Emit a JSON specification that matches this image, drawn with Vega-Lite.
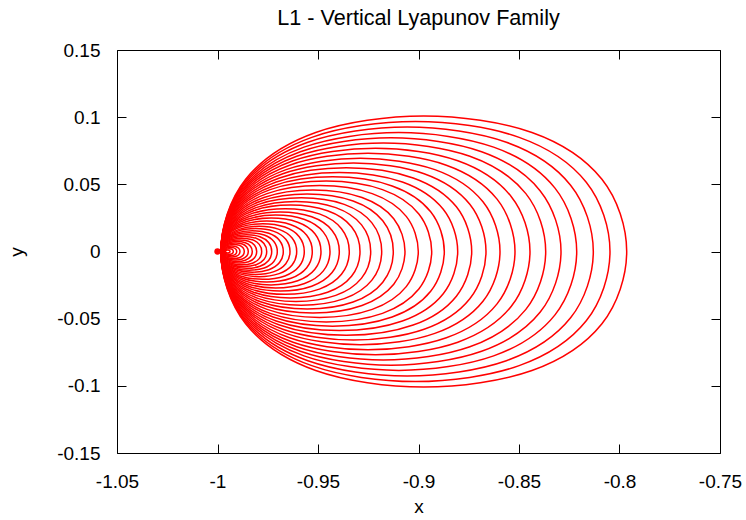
{
"$schema":"https://vega.github.io/schema/vega-lite/v6.json",
"width":603,"height":403,
"autosize":{"type":"none"},
"padding":{"left":117,"top":50,"right":26,"bottom":67},
"background":"#ffffff",
"title":{"text":"L1 - Vertical Lyapunov Family","font":"Liberation Sans","fontSize":21.6,"fontWeight":"normal","color":"#000000","anchor":"middle","offset":11},
"config":{
 "font":"Liberation Sans",
 "view":{"stroke":"#000000","strokeWidth":1},
 "axis":{"domain":false,"grid":false,"ticks":true,"tickSize":-9,"tickColor":"#000000","tickWidth":1,
  "labelFont":"Liberation Sans","labelFontSize":19,"labelColor":"#000000","labelFlush":false,"labelOverlap":false,"labelBound":false,
  "titleFont":"Liberation Sans","titleFontSize":19,"titleFontWeight":"normal","titleColor":"#000000"}
},
"datasets":{
"pt":[{"x":-1,"y":0}],
"orbits":[
{"k":1,"i":0,"x":-0.99378,"y":0},{"k":1,"i":1,"x":-0.99392,"y":0.00059},{"k":1,"i":2,"x":-0.9943,"y":0.00097},{"k":1,"i":3,"x":-0.99489,"y":0.00111},{"k":1,"i":4,"x":-0.99548,"y":0.00097},{"k":1,"i":5,"x":-0.99586,"y":0.00059},{"k":1,"i":6,"x":-0.996,"y":0},{"k":1,"i":7,"x":-0.99586,"y":-0.00059},{"k":1,"i":8,"x":-0.99548,"y":-0.00097},{"k":1,"i":9,"x":-0.99489,"y":-0.00111},{"k":1,"i":10,"x":-0.9943,"y":-0.00097},{"k":1,"i":11,"x":-0.99392,"y":-0.00059},
{"k":2,"i":0,"x":-0.99214,"y":0},{"k":2,"i":1,"x":-0.99239,"y":0.00111},{"k":2,"i":2,"x":-0.99311,"y":0.00183},{"k":2,"i":3,"x":-0.99422,"y":0.00208},{"k":2,"i":4,"x":-0.99533,"y":0.00183},{"k":2,"i":5,"x":-0.99605,"y":0.00111},{"k":2,"i":6,"x":-0.9963,"y":0},{"k":2,"i":7,"x":-0.99605,"y":-0.00111},{"k":2,"i":8,"x":-0.99533,"y":-0.00183},{"k":2,"i":9,"x":-0.99422,"y":-0.00208},{"k":2,"i":10,"x":-0.99311,"y":-0.00183},{"k":2,"i":11,"x":-0.99239,"y":-0.00111},
{"k":3,"i":0,"x":-0.99045,"y":0},{"k":3,"i":1,"x":-0.99083,"y":0.00164},{"k":3,"i":2,"x":-0.99189,"y":0.0027},{"k":3,"i":3,"x":-0.99353,"y":0.00308},{"k":3,"i":4,"x":-0.99517,"y":0.0027},{"k":3,"i":5,"x":-0.99623,"y":0.00164},{"k":3,"i":6,"x":-0.9966,"y":0},{"k":3,"i":7,"x":-0.99623,"y":-0.00164},{"k":3,"i":8,"x":-0.99517,"y":-0.0027},{"k":3,"i":9,"x":-0.99353,"y":-0.00308},{"k":3,"i":10,"x":-0.99189,"y":-0.0027},{"k":3,"i":11,"x":-0.99083,"y":-0.00164},
{"k":4,"i":0,"x":-0.98881,"y":0},{"k":4,"i":1,"x":-0.9893,"y":0.00216},{"k":4,"i":2,"x":-0.9907,"y":0.00355},{"k":4,"i":3,"x":-0.99286,"y":0.00405},{"k":4,"i":4,"x":-0.99501,"y":0.00355},{"k":4,"i":5,"x":-0.99641,"y":0.00216},{"k":4,"i":6,"x":-0.9969,"y":0},{"k":4,"i":7,"x":-0.99641,"y":-0.00216},{"k":4,"i":8,"x":-0.99501,"y":-0.00355},{"k":4,"i":9,"x":-0.99286,"y":-0.00405},{"k":4,"i":10,"x":-0.9907,"y":-0.00355},{"k":4,"i":11,"x":-0.9893,"y":-0.00216},
{"k":5,"i":0,"x":-0.98667,"y":0},{"k":5,"i":1,"x":-0.98731,"y":0.00281},{"k":5,"i":2,"x":-0.98913,"y":0.00462},{"k":5,"i":3,"x":-0.99194,"y":0.00527},{"k":5,"i":4,"x":-0.99474,"y":0.00462},{"k":5,"i":5,"x":-0.99656,"y":0.00281},{"k":5,"i":6,"x":-0.9972,"y":0},{"k":5,"i":7,"x":-0.99656,"y":-0.00281},{"k":5,"i":8,"x":-0.99474,"y":-0.00462},{"k":5,"i":9,"x":-0.99194,"y":-0.00527},{"k":5,"i":10,"x":-0.98913,"y":-0.00462},{"k":5,"i":11,"x":-0.98731,"y":-0.00281},
{"k":6,"i":0,"x":-0.98468,"y":0},{"k":6,"i":1,"x":-0.98546,"y":0.00339},{"k":6,"i":2,"x":-0.98765,"y":0.00558},{"k":6,"i":3,"x":-0.99104,"y":0.00636},{"k":6,"i":4,"x":-0.99443,"y":0.00558},{"k":6,"i":5,"x":-0.99662,"y":0.00339},{"k":6,"i":6,"x":-0.9974,"y":0},{"k":6,"i":7,"x":-0.99662,"y":-0.00339},{"k":6,"i":8,"x":-0.99443,"y":-0.00558},{"k":6,"i":9,"x":-0.99104,"y":-0.00636},{"k":6,"i":10,"x":-0.98765,"y":-0.00558},{"k":6,"i":11,"x":-0.98546,"y":-0.00339},
{"k":7,"i":0,"x":-0.98269,"y":0},{"k":7,"i":1,"x":-0.9836,"y":0.00397},{"k":7,"i":2,"x":-0.98617,"y":0.00655},{"k":7,"i":3,"x":-0.99015,"y":0.00746},{"k":7,"i":4,"x":-0.99412,"y":0.00655},{"k":7,"i":5,"x":-0.99669,"y":0.00397},{"k":7,"i":6,"x":-0.9976,"y":0},{"k":7,"i":7,"x":-0.99669,"y":-0.00397},{"k":7,"i":8,"x":-0.99412,"y":-0.00655},{"k":7,"i":9,"x":-0.99015,"y":-0.00746},{"k":7,"i":10,"x":-0.98617,"y":-0.00655},{"k":7,"i":11,"x":-0.9836,"y":-0.00397},
{"k":8,"i":0,"x":-0.9805,"y":0},{"k":8,"i":1,"x":-0.98156,"y":0.00461},{"k":8,"i":2,"x":-0.98454,"y":0.0076},{"k":8,"i":3,"x":-0.98915,"y":0.00865},{"k":8,"i":4,"x":-0.99376,"y":0.0076},{"k":8,"i":5,"x":-0.99675,"y":0.00461},{"k":8,"i":6,"x":-0.9978,"y":0},{"k":8,"i":7,"x":-0.99675,"y":-0.00461},{"k":8,"i":8,"x":-0.99376,"y":-0.0076},{"k":8,"i":9,"x":-0.98915,"y":-0.00865},{"k":8,"i":10,"x":-0.98454,"y":-0.0076},{"k":8,"i":11,"x":-0.98156,"y":-0.00461},
{"k":9,"i":0,"x":-0.97801,"y":0},{"k":9,"i":1,"x":-0.97922,"y":0.0053},{"k":9,"i":2,"x":-0.98265,"y":0.00873},{"k":9,"i":3,"x":-0.98796,"y":0.00995},{"k":9,"i":4,"x":-0.99326,"y":0.00873},{"k":9,"i":5,"x":-0.99669,"y":0.0053},{"k":9,"i":6,"x":-0.9979,"y":0},{"k":9,"i":7,"x":-0.99669,"y":-0.0053},{"k":9,"i":8,"x":-0.99326,"y":-0.00873},{"k":9,"i":9,"x":-0.98796,"y":-0.00995},{"k":9,"i":10,"x":-0.98265,"y":-0.00873},{"k":9,"i":11,"x":-0.97922,"y":-0.0053},
{"k":10,"i":0,"x":-0.97552,"y":0},{"k":10,"i":1,"x":-0.97689,"y":0.00599},{"k":10,"i":2,"x":-0.98077,"y":0.00987},{"k":10,"i":3,"x":-0.98676,"y":0.01124},{"k":10,"i":4,"x":-0.99275,"y":0.00987},{"k":10,"i":5,"x":-0.99663,"y":0.00599},{"k":10,"i":6,"x":-0.998,"y":0},{"k":10,"i":7,"x":-0.99663,"y":-0.00599},{"k":10,"i":8,"x":-0.99275,"y":-0.00987},{"k":10,"i":9,"x":-0.98676,"y":-0.01124},{"k":10,"i":10,"x":-0.98077,"y":-0.00987},{"k":10,"i":11,"x":-0.97689,"y":-0.00599},
{"k":11,"i":0,"x":-0.97303,"y":0},{"k":11,"i":1,"x":-0.97456,"y":0.00668},{"k":11,"i":2,"x":-0.97888,"y":0.01101},{"k":11,"i":3,"x":-0.98557,"y":0.01254},{"k":11,"i":4,"x":-0.99225,"y":0.01101},{"k":11,"i":5,"x":-0.99657,"y":0.00668},{"k":11,"i":6,"x":-0.9981,"y":0},{"k":11,"i":7,"x":-0.99657,"y":-0.00668},{"k":11,"i":8,"x":-0.99225,"y":-0.01101},{"k":11,"i":9,"x":-0.98557,"y":-0.01254},{"k":11,"i":10,"x":-0.97888,"y":-0.01101},{"k":11,"i":11,"x":-0.97456,"y":-0.00668},
{"k":12,"i":0,"x":-0.97025,"y":0},{"k":12,"i":1,"x":-0.97195,"y":0.00743},{"k":12,"i":2,"x":-0.97676,"y":0.01223},{"k":12,"i":3,"x":-0.98418,"y":0.01393},{"k":12,"i":4,"x":-0.99161,"y":0.01223},{"k":12,"i":5,"x":-0.99641,"y":0.00743},{"k":12,"i":6,"x":-0.9981,"y":0},{"k":12,"i":7,"x":-0.99641,"y":-0.00743},{"k":12,"i":8,"x":-0.99161,"y":-0.01223},{"k":12,"i":9,"x":-0.98418,"y":-0.01393},{"k":12,"i":10,"x":-0.97676,"y":-0.01223},{"k":12,"i":11,"x":-0.97195,"y":-0.00743},
{"k":13,"i":0,"x":-0.96726,"y":0},{"k":13,"i":1,"x":-0.96914,"y":0.00822},{"k":13,"i":2,"x":-0.97446,"y":0.01354},{"k":13,"i":3,"x":-0.98268,"y":0.01542},{"k":13,"i":4,"x":-0.9909,"y":0.01354},{"k":13,"i":5,"x":-0.99622,"y":0.00822},{"k":13,"i":6,"x":-0.9981,"y":0},{"k":13,"i":7,"x":-0.99622,"y":-0.00822},{"k":13,"i":8,"x":-0.9909,"y":-0.01354},{"k":13,"i":9,"x":-0.98268,"y":-0.01542},{"k":13,"i":10,"x":-0.97446,"y":-0.01354},{"k":13,"i":11,"x":-0.96914,"y":-0.00822},
{"k":14,"i":0,"x":-0.96393,"y":0},{"k":14,"i":1,"x":-0.96601,"y":0.00911},{"k":14,"i":2,"x":-0.97191,"y":0.015},{"k":14,"i":3,"x":-0.98102,"y":0.01709},{"k":14,"i":4,"x":-0.99012,"y":0.015},{"k":14,"i":5,"x":-0.99602,"y":0.00911},{"k":14,"i":6,"x":-0.9981,"y":0},{"k":14,"i":7,"x":-0.99602,"y":-0.00911},{"k":14,"i":8,"x":-0.99012,"y":-0.015},{"k":14,"i":9,"x":-0.98102,"y":-0.01709},{"k":14,"i":10,"x":-0.97191,"y":-0.015},{"k":14,"i":11,"x":-0.96601,"y":-0.00911},
{"k":15,"i":0,"x":-0.9606,"y":0},{"k":15,"i":1,"x":-0.96289,"y":0.00999},{"k":15,"i":2,"x":-0.96936,"y":0.01646},{"k":15,"i":3,"x":-0.97935,"y":0.01875},{"k":15,"i":4,"x":-0.98934,"y":0.01646},{"k":15,"i":5,"x":-0.99581,"y":0.00999},{"k":15,"i":6,"x":-0.9981,"y":0},{"k":15,"i":7,"x":-0.99581,"y":-0.00999},{"k":15,"i":8,"x":-0.98934,"y":-0.01646},{"k":15,"i":9,"x":-0.97935,"y":-0.01875},{"k":15,"i":10,"x":-0.96936,"y":-0.01646},{"k":15,"i":11,"x":-0.96289,"y":-0.00999},
{"k":16,"i":0,"x":-0.95682,"y":0},{"k":16,"i":1,"x":-0.95934,"y":0.01103},{"k":16,"i":2,"x":-0.96648,"y":0.01818},{"k":16,"i":3,"x":-0.97751,"y":0.0207},{"k":16,"i":4,"x":-0.98854,"y":0.01818},{"k":16,"i":5,"x":-0.99569,"y":0.01103},{"k":16,"i":6,"x":-0.9982,"y":0},{"k":16,"i":7,"x":-0.99569,"y":-0.01103},{"k":16,"i":8,"x":-0.98854,"y":-0.01818},{"k":16,"i":9,"x":-0.97751,"y":-0.0207},{"k":16,"i":10,"x":-0.96648,"y":-0.01818},{"k":16,"i":11,"x":-0.95934,"y":-0.01103},
{"k":17,"i":0,"x":-0.95284,"y":0},{"k":17,"i":1,"x":-0.95561,"y":0.01209},{"k":17,"i":2,"x":-0.96343,"y":0.01991},{"k":17,"i":3,"x":-0.97552,"y":0.02268},{"k":17,"i":4,"x":-0.98761,"y":0.01991},{"k":17,"i":5,"x":-0.99543,"y":0.01209},{"k":17,"i":6,"x":-0.9982,"y":0},{"k":17,"i":7,"x":-0.99543,"y":-0.01209},{"k":17,"i":8,"x":-0.98761,"y":-0.01991},{"k":17,"i":9,"x":-0.97552,"y":-0.02268},{"k":17,"i":10,"x":-0.96343,"y":-0.01991},{"k":17,"i":11,"x":-0.95561,"y":-0.01209},
{"k":18,"i":0,"x":-0.94851,"y":0},{"k":18,"i":1,"x":-0.95154,"y":0.01324},{"k":18,"i":2,"x":-0.96011,"y":0.02181},{"k":18,"i":3,"x":-0.97336,"y":0.02485},{"k":18,"i":4,"x":-0.9866,"y":0.02181},{"k":18,"i":5,"x":-0.99517,"y":0.01324},{"k":18,"i":6,"x":-0.9982,"y":0},{"k":18,"i":7,"x":-0.99517,"y":-0.01324},{"k":18,"i":8,"x":-0.9866,"y":-0.02181},{"k":18,"i":9,"x":-0.97336,"y":-0.02485},{"k":18,"i":10,"x":-0.96011,"y":-0.02181},{"k":18,"i":11,"x":-0.95154,"y":-0.01324},
{"k":19,"i":0,"x":-0.94403,"y":0},{"k":19,"i":1,"x":-0.94733,"y":0.01444},{"k":19,"i":2,"x":-0.95668,"y":0.02378},{"k":19,"i":3,"x":-0.97112,"y":0.02709},{"k":19,"i":4,"x":-0.98555,"y":0.02378},{"k":19,"i":5,"x":-0.9949,"y":0.01444},{"k":19,"i":6,"x":-0.9982,"y":0},{"k":19,"i":7,"x":-0.9949,"y":-0.01444},{"k":19,"i":8,"x":-0.98555,"y":-0.02378},{"k":19,"i":9,"x":-0.97112,"y":-0.02709},{"k":19,"i":10,"x":-0.95668,"y":-0.02378},{"k":19,"i":11,"x":-0.94733,"y":-0.01444},
{"k":20,"i":0,"x":-0.9394,"y":0},{"k":20,"i":1,"x":-0.94299,"y":0.01567},{"k":20,"i":2,"x":-0.95313,"y":0.02581},{"k":20,"i":3,"x":-0.9688,"y":0.0294},{"k":20,"i":4,"x":-0.98447,"y":0.02581},{"k":20,"i":5,"x":-0.99461,"y":0.01567},{"k":20,"i":6,"x":-0.9982,"y":0},{"k":20,"i":7,"x":-0.99461,"y":-0.01567},{"k":20,"i":8,"x":-0.98447,"y":-0.02581},{"k":20,"i":9,"x":-0.9688,"y":-0.0294},{"k":20,"i":10,"x":-0.95313,"y":-0.02581},{"k":20,"i":11,"x":-0.94299,"y":-0.01567},
{"k":21,"i":0,"x":-0.93443,"y":0},{"k":21,"i":1,"x":-0.93832,"y":0.017},{"k":21,"i":2,"x":-0.94932,"y":0.028},{"k":21,"i":3,"x":-0.96632,"y":0.03189},{"k":21,"i":4,"x":-0.98331,"y":0.028},{"k":21,"i":5,"x":-0.99431,"y":0.017},{"k":21,"i":6,"x":-0.9982,"y":0},{"k":21,"i":7,"x":-0.99431,"y":-0.017},{"k":21,"i":8,"x":-0.98331,"y":-0.028},{"k":21,"i":9,"x":-0.96632,"y":-0.03189},{"k":21,"i":10,"x":-0.94932,"y":-0.028},{"k":21,"i":11,"x":-0.93832,"y":-0.017},
{"k":22,"i":0,"x":-0.9291,"y":0},{"k":22,"i":1,"x":-0.93332,"y":0.01842},{"k":22,"i":2,"x":-0.94524,"y":0.03034},{"k":22,"i":3,"x":-0.96365,"y":0.03455},{"k":22,"i":4,"x":-0.98207,"y":0.03034},{"k":22,"i":5,"x":-0.99399,"y":0.01842},{"k":22,"i":6,"x":-0.9982,"y":0},{"k":22,"i":7,"x":-0.99399,"y":-0.01842},{"k":22,"i":8,"x":-0.98207,"y":-0.03034},{"k":22,"i":9,"x":-0.96365,"y":-0.03455},{"k":22,"i":10,"x":-0.94524,"y":-0.03034},{"k":22,"i":11,"x":-0.93332,"y":-0.01842},
{"k":23,"i":0,"x":-0.92378,"y":0},{"k":23,"i":1,"x":-0.92832,"y":0.01983},{"k":23,"i":2,"x":-0.94116,"y":0.03267},{"k":23,"i":3,"x":-0.96099,"y":0.03721},{"k":23,"i":4,"x":-0.98082,"y":0.03267},{"k":23,"i":5,"x":-0.99366,"y":0.01983},{"k":23,"i":6,"x":-0.9982,"y":0},{"k":23,"i":7,"x":-0.99366,"y":-0.01983},{"k":23,"i":8,"x":-0.98082,"y":-0.03267},{"k":23,"i":9,"x":-0.96099,"y":-0.03721},{"k":23,"i":10,"x":-0.94116,"y":-0.03267},{"k":23,"i":11,"x":-0.92832,"y":-0.01983},
{"k":24,"i":0,"x":-0.91831,"y":0},{"k":24,"i":1,"x":-0.92318,"y":0.02129},{"k":24,"i":2,"x":-0.93696,"y":0.03507},{"k":24,"i":3,"x":-0.95826,"y":0.03995},{"k":24,"i":4,"x":-0.97955,"y":0.03507},{"k":24,"i":5,"x":-0.99333,"y":0.02129},{"k":24,"i":6,"x":-0.9982,"y":0},{"k":24,"i":7,"x":-0.99333,"y":-0.02129},{"k":24,"i":8,"x":-0.97955,"y":-0.03507},{"k":24,"i":9,"x":-0.95826,"y":-0.03995},{"k":24,"i":10,"x":-0.93696,"y":-0.03507},{"k":24,"i":11,"x":-0.92318,"y":-0.02129},
{"k":25,"i":0,"x":-0.91254,"y":0},{"k":25,"i":1,"x":-0.91777,"y":0.02283},{"k":25,"i":2,"x":-0.93254,"y":0.03761},{"k":25,"i":3,"x":-0.95537,"y":0.04283},{"k":25,"i":4,"x":-0.9782,"y":0.03761},{"k":25,"i":5,"x":-0.99298,"y":0.02283},{"k":25,"i":6,"x":-0.9982,"y":0},{"k":25,"i":7,"x":-0.99298,"y":-0.02283},{"k":25,"i":8,"x":-0.9782,"y":-0.03761},{"k":25,"i":9,"x":-0.95537,"y":-0.04283},{"k":25,"i":10,"x":-0.93254,"y":-0.03761},{"k":25,"i":11,"x":-0.91777,"y":-0.02283},
{"k":26,"i":0,"x":-0.90672,"y":0},{"k":26,"i":1,"x":-0.91231,"y":0.02441},{"k":26,"i":2,"x":-0.9281,"y":0.0402},{"k":26,"i":3,"x":-0.95251,"y":0.04579},{"k":26,"i":4,"x":-0.97692,"y":0.0402},{"k":26,"i":5,"x":-0.99271,"y":0.02441},{"k":26,"i":6,"x":-0.9983,"y":0},{"k":26,"i":7,"x":-0.99271,"y":-0.02441},{"k":26,"i":8,"x":-0.97692,"y":-0.0402},{"k":26,"i":9,"x":-0.95251,"y":-0.04579},{"k":26,"i":10,"x":-0.9281,"y":-0.0402},{"k":26,"i":11,"x":-0.91231,"y":-0.02441},
{"k":27,"i":0,"x":-0.9001,"y":0},{"k":27,"i":1,"x":-0.90609,"y":0.02617},{"k":27,"i":2,"x":-0.92303,"y":0.04311},{"k":27,"i":3,"x":-0.9492,"y":0.0491},{"k":27,"i":4,"x":-0.97537,"y":0.04311},{"k":27,"i":5,"x":-0.99231,"y":0.02617},{"k":27,"i":6,"x":-0.9983,"y":0},{"k":27,"i":7,"x":-0.99231,"y":-0.02617},{"k":27,"i":8,"x":-0.97537,"y":-0.04311},{"k":27,"i":9,"x":-0.9492,"y":-0.0491},{"k":27,"i":10,"x":-0.92303,"y":-0.04311},{"k":27,"i":11,"x":-0.90609,"y":-0.02617},
{"k":28,"i":0,"x":-0.89343,"y":0},{"k":28,"i":1,"x":-0.89983,"y":0.02795},{"k":28,"i":2,"x":-0.91792,"y":0.04604},{"k":28,"i":3,"x":-0.94587,"y":0.05244},{"k":28,"i":4,"x":-0.97381,"y":0.04604},{"k":28,"i":5,"x":-0.9919,"y":0.02795},{"k":28,"i":6,"x":-0.9983,"y":0},{"k":28,"i":7,"x":-0.9919,"y":-0.02795},{"k":28,"i":8,"x":-0.97381,"y":-0.04604},{"k":28,"i":9,"x":-0.94587,"y":-0.05244},{"k":28,"i":10,"x":-0.91792,"y":-0.04604},{"k":28,"i":11,"x":-0.89983,"y":-0.02795},
{"k":29,"i":0,"x":-0.88716,"y":0},{"k":29,"i":1,"x":-0.89394,"y":0.02962},{"k":29,"i":2,"x":-0.91311,"y":0.04879},{"k":29,"i":3,"x":-0.94273,"y":0.05557},{"k":29,"i":4,"x":-0.97235,"y":0.04879},{"k":29,"i":5,"x":-0.99152,"y":0.02962},{"k":29,"i":6,"x":-0.9983,"y":0},{"k":29,"i":7,"x":-0.99152,"y":-0.02962},{"k":29,"i":8,"x":-0.97235,"y":-0.04879},{"k":29,"i":9,"x":-0.94273,"y":-0.05557},{"k":29,"i":10,"x":-0.91311,"y":-0.04879},{"k":29,"i":11,"x":-0.89394,"y":-0.02962},
{"k":30,"i":0,"x":-0.8805,"y":0},{"k":30,"i":1,"x":-0.88769,"y":0.03139},{"k":30,"i":2,"x":-0.90801,"y":0.05171},{"k":30,"i":3,"x":-0.9394,"y":0.0589},{"k":30,"i":4,"x":-0.97079,"y":0.05171},{"k":30,"i":5,"x":-0.99111,"y":0.03139},{"k":30,"i":6,"x":-0.9983,"y":0},{"k":30,"i":7,"x":-0.99111,"y":-0.03139},{"k":30,"i":8,"x":-0.97079,"y":-0.05171},{"k":30,"i":9,"x":-0.9394,"y":-0.0589},{"k":30,"i":10,"x":-0.90801,"y":-0.05171},{"k":30,"i":11,"x":-0.88769,"y":-0.03139},
{"k":31,"i":0,"x":-0.87353,"y":0},{"k":31,"i":1,"x":-0.88114,"y":0.03325},{"k":31,"i":2,"x":-0.90266,"y":0.05477},{"k":31,"i":3,"x":-0.93592,"y":0.06239},{"k":31,"i":4,"x":-0.96917,"y":0.05477},{"k":31,"i":5,"x":-0.99069,"y":0.03325},{"k":31,"i":6,"x":-0.9983,"y":0},{"k":31,"i":7,"x":-0.99069,"y":-0.03325},{"k":31,"i":8,"x":-0.96917,"y":-0.05477},{"k":31,"i":9,"x":-0.93592,"y":-0.06239},{"k":31,"i":10,"x":-0.90266,"y":-0.05477},{"k":31,"i":11,"x":-0.88114,"y":-0.03325},
{"k":32,"i":0,"x":-0.86642,"y":0},{"k":32,"i":1,"x":-0.87447,"y":0.03515},{"k":32,"i":2,"x":-0.89721,"y":0.0579},{"k":32,"i":3,"x":-0.93236,"y":0.06594},{"k":32,"i":4,"x":-0.96751,"y":0.0579},{"k":32,"i":5,"x":-0.99026,"y":0.03515},{"k":32,"i":6,"x":-0.9983,"y":0},{"k":32,"i":7,"x":-0.99026,"y":-0.03515},{"k":32,"i":8,"x":-0.96751,"y":-0.0579},{"k":32,"i":9,"x":-0.93236,"y":-0.06594},{"k":32,"i":10,"x":-0.89721,"y":-0.0579},{"k":32,"i":11,"x":-0.87447,"y":-0.03515},
{"k":33,"i":0,"x":-0.85945,"y":0},{"k":33,"i":1,"x":-0.86792,"y":0.037},{"k":33,"i":2,"x":-0.89187,"y":0.06096},{"k":33,"i":3,"x":-0.92888,"y":0.06943},{"k":33,"i":4,"x":-0.96588,"y":0.06096},{"k":33,"i":5,"x":-0.98983,"y":0.037},{"k":33,"i":6,"x":-0.9983,"y":0},{"k":33,"i":7,"x":-0.98983,"y":-0.037},{"k":33,"i":8,"x":-0.96588,"y":-0.06096},{"k":33,"i":9,"x":-0.92888,"y":-0.06943},{"k":33,"i":10,"x":-0.89187,"y":-0.06096},{"k":33,"i":11,"x":-0.86792,"y":-0.037},
{"k":34,"i":0,"x":-0.85199,"y":0},{"k":34,"i":1,"x":-0.86092,"y":0.03899},{"k":34,"i":2,"x":-0.88615,"y":0.06423},{"k":34,"i":3,"x":-0.92515,"y":0.07316},{"k":34,"i":4,"x":-0.96414,"y":0.06423},{"k":34,"i":5,"x":-0.98938,"y":0.03899},{"k":34,"i":6,"x":-0.9983,"y":0},{"k":34,"i":7,"x":-0.98938,"y":-0.03899},{"k":34,"i":8,"x":-0.96414,"y":-0.06423},{"k":34,"i":9,"x":-0.92515,"y":-0.07316},{"k":34,"i":10,"x":-0.88615,"y":-0.06423},{"k":34,"i":11,"x":-0.86092,"y":-0.03899},
{"k":35,"i":0,"x":-0.84453,"y":0},{"k":35,"i":1,"x":-0.85391,"y":0.04098},{"k":35,"i":2,"x":-0.88044,"y":0.06751},{"k":35,"i":3,"x":-0.92142,"y":0.07689},{"k":35,"i":4,"x":-0.9624,"y":0.06751},{"k":35,"i":5,"x":-0.98892,"y":0.04098},{"k":35,"i":6,"x":-0.9983,"y":0},{"k":35,"i":7,"x":-0.98892,"y":-0.04098},{"k":35,"i":8,"x":-0.9624,"y":-0.06751},{"k":35,"i":9,"x":-0.92142,"y":-0.07689},{"k":35,"i":10,"x":-0.88044,"y":-0.06751},{"k":35,"i":11,"x":-0.85391,"y":-0.04098},
{"k":36,"i":0,"x":-0.83672,"y":0},{"k":36,"i":1,"x":-0.84658,"y":0.04306},{"k":36,"i":2,"x":-0.87445,"y":0.07093},{"k":36,"i":3,"x":-0.91751,"y":0.08079},{"k":36,"i":4,"x":-0.96057,"y":0.07093},{"k":36,"i":5,"x":-0.98844,"y":0.04306},{"k":36,"i":6,"x":-0.9983,"y":0},{"k":36,"i":7,"x":-0.98844,"y":-0.04306},{"k":36,"i":8,"x":-0.96057,"y":-0.07093},{"k":36,"i":9,"x":-0.91751,"y":-0.08079},{"k":36,"i":10,"x":-0.87445,"y":-0.07093},{"k":36,"i":11,"x":-0.84658,"y":-0.04306},
{"k":37,"i":0,"x":-0.8291,"y":0},{"k":37,"i":1,"x":-0.83942,"y":0.04509},{"k":37,"i":2,"x":-0.86861,"y":0.07428},{"k":37,"i":3,"x":-0.9137,"y":0.0846},{"k":37,"i":4,"x":-0.95879,"y":0.07428},{"k":37,"i":5,"x":-0.98798,"y":0.04509},{"k":37,"i":6,"x":-0.9983,"y":0},{"k":37,"i":7,"x":-0.98798,"y":-0.04509},{"k":37,"i":8,"x":-0.95879,"y":-0.07428},{"k":37,"i":9,"x":-0.9137,"y":-0.0846},{"k":37,"i":10,"x":-0.86861,"y":-0.07428},{"k":37,"i":11,"x":-0.83942,"y":-0.04509},
{"k":38,"i":0,"x":-0.82129,"y":0},{"k":38,"i":1,"x":-0.83209,"y":0.04717},{"k":38,"i":2,"x":-0.86262,"y":0.07771},{"k":38,"i":3,"x":-0.9098,"y":0.08851},{"k":38,"i":4,"x":-0.95697,"y":0.07771},{"k":38,"i":5,"x":-0.9875,"y":0.04717},{"k":38,"i":6,"x":-0.9983,"y":0},{"k":38,"i":7,"x":-0.9875,"y":-0.04717},{"k":38,"i":8,"x":-0.95697,"y":-0.07771},{"k":38,"i":9,"x":-0.9098,"y":-0.08851},{"k":38,"i":10,"x":-0.86262,"y":-0.07771},{"k":38,"i":11,"x":-0.83209,"y":-0.04717},
{"k":39,"i":0,"x":-0.81303,"y":0},{"k":39,"i":1,"x":-0.82433,"y":0.04937},{"k":39,"i":2,"x":-0.85629,"y":0.08133},{"k":39,"i":3,"x":-0.90567,"y":0.09264},{"k":39,"i":4,"x":-0.95504,"y":0.08133},{"k":39,"i":5,"x":-0.987,"y":0.04937},{"k":39,"i":6,"x":-0.9983,"y":0},{"k":39,"i":7,"x":-0.987,"y":-0.04937},{"k":39,"i":8,"x":-0.95504,"y":-0.08133},{"k":39,"i":9,"x":-0.90567,"y":-0.09264},{"k":39,"i":10,"x":-0.85629,"y":-0.08133},{"k":39,"i":11,"x":-0.82433,"y":-0.04937},
{"k":40,"i":0,"x":-0.80473,"y":0},{"k":40,"i":1,"x":-0.81654,"y":0.05159},{"k":40,"i":2,"x":-0.84993,"y":0.08498},{"k":40,"i":3,"x":-0.90152,"y":0.09679},{"k":40,"i":4,"x":-0.9531,"y":0.08498},{"k":40,"i":5,"x":-0.98649,"y":0.05159},{"k":40,"i":6,"x":-0.9983,"y":0},{"k":40,"i":7,"x":-0.98649,"y":-0.05159},{"k":40,"i":8,"x":-0.9531,"y":-0.08498},{"k":40,"i":9,"x":-0.90152,"y":-0.09679},{"k":40,"i":10,"x":-0.84993,"y":-0.08498},{"k":40,"i":11,"x":-0.81654,"y":-0.05159},
{"k":41,"i":0,"x":-0.79642,"y":0},{"k":41,"i":1,"x":-0.80874,"y":0.0538},{"k":41,"i":2,"x":-0.84356,"y":0.08863},{"k":41,"i":3,"x":-0.89736,"y":0.10094},{"k":41,"i":4,"x":-0.95116,"y":0.08863},{"k":41,"i":5,"x":-0.98599,"y":0.0538},{"k":41,"i":6,"x":-0.9983,"y":0},{"k":41,"i":7,"x":-0.98599,"y":-0.0538},{"k":41,"i":8,"x":-0.95116,"y":-0.08863},{"k":41,"i":9,"x":-0.89736,"y":-0.10094},{"k":41,"i":10,"x":-0.84356,"y":-0.08863},{"k":41,"i":11,"x":-0.80874,"y":-0.0538}
]},
"layer":[
{"data":{"name":"orbits"},
 "mark":{"type":"line","interpolate":"cardinal-closed","color":"#ff0000","strokeWidth":1.5},
 "encoding":{
  "x":{"field":"x","type":"quantitative","scale":{"domain":[-1.05,-0.75],"nice":false,"zero":false},
   "axis":{"orient":"bottom","title":"x","values":[-1.05,-1,-0.95,-0.9,-0.85,-0.8,-0.75],"labelExpr":"replace(format(datum.value,'~g'),'\u2212','-')","labelPadding":28,"titlePadding":6}},
  "y":{"field":"y","type":"quantitative","scale":{"domain":[-0.15,0.15],"nice":false,"zero":false},
   "axis":{"orient":"left","title":"y","values":[-0.15,-0.1,-0.05,0,0.05,0.1,0.15],"labelExpr":"replace(format(datum.value,'~g'),'\u2212','-')","labelPadding":26,"titlePadding":30}},
  "detail":{"field":"k","type":"nominal"},
  "order":{"field":"i","type":"quantitative"}
 }},
{"data":{"name":"pt"},
 "mark":{"type":"point","filled":true,"color":"#ff0000","opacity":1,"size":40},
 "encoding":{
  "x":{"field":"x","type":"quantitative","axis":{"orient":"top","title":null,"labels":false,"values":[-1.05,-1,-0.95,-0.9,-0.85,-0.8,-0.75]}},
  "y":{"field":"y","type":"quantitative","axis":{"orient":"right","title":null,"labels":false,"values":[-0.15,-0.1,-0.05,0,0.05,0.1,0.15]}}
 }}
],
"resolve":{"axis":{"x":"independent","y":"independent"}}
}
